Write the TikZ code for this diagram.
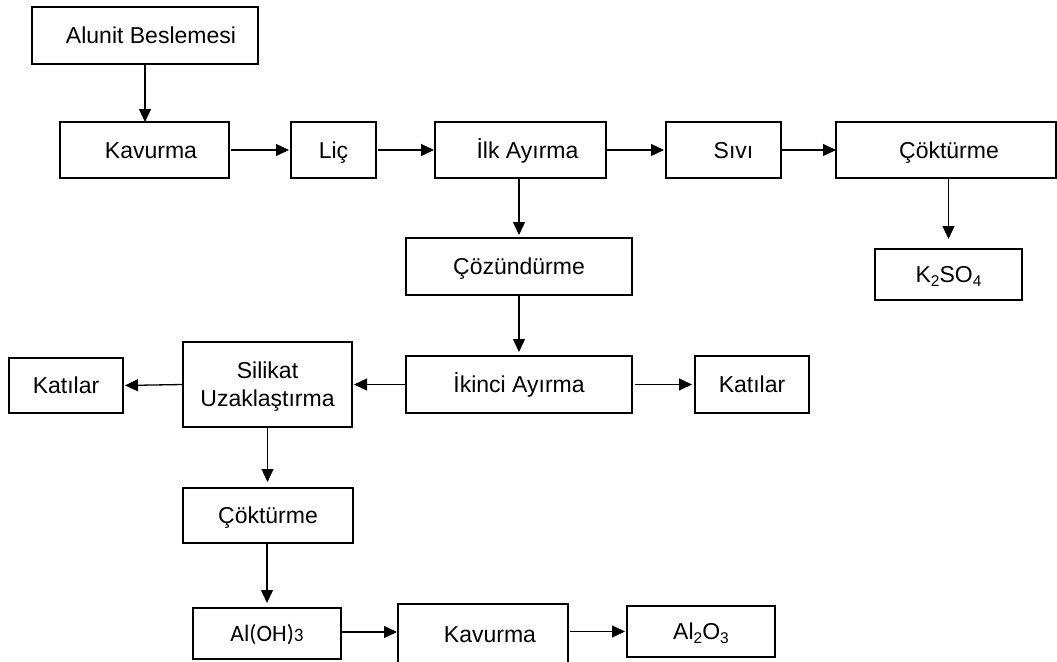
\documentclass[tikz,border=0pt]{standalone}
\usepackage{fontspec}
\setmainfont{Liberation Sans}
\newfontfamily\calfont{Carlito}
\usetikzlibrary{arrows.meta,calc}
% lowered, smaller digits for chemical formulas
\newcommand\chemsub[1]{\raisebox{-0.28ex}{\fontsize{15.5pt}{15.5pt}\selectfont #1}}

\begin{document}
\begin{tikzpicture}[x=1pt,y=-1pt,
  box/.style={draw,line width=1.3pt,inner sep=0pt,outer sep=0pt,
    text height=16.5pt,text depth=0pt,align=center,
    font=\fontsize{23pt}{28pt}\selectfont},
  flow/.style={line width=1.3pt,-{Triangle[length=13pt,width=12pt]}}]
\useasboundingbox (0,0) rectangle (1057,661);

% top row
\node[box,minimum width=226pt,minimum height=57pt] (feed)  at (145,35.5)  {\hspace*{12pt}Alunit Beslemesi};
\node[box,minimum width=169pt,minimum height=56pt] (kav1)  at (144.5,150) {\hspace*{13pt}Kavurma};
\node[box,minimum width=85pt, minimum height=56pt] (lic)   at (333.5,150) {Liç};
\node[box,minimum width=171pt,minimum height=56pt] (ilk)   at (520.5,150) {\hspace*{14pt}İlk Ayırma};
\node[box,minimum width=115pt,minimum height=56pt] (sivi)  at (723.5,150) {\hspace*{20pt}Sıvı};
\node[box,minimum width=220pt,minimum height=56pt] (cokt1) at (946,150)   {\hspace*{6pt}Çöktürme};
\node[box,minimum width=147pt,minimum height=51pt] (k2so4) at (948.5,274.5) {K\chemsub{2}SO\chemsub{4}};

% middle column
\node[box,minimum width=226pt,minimum height=57pt] (coz)   at (519,266.5) {Çözündürme};
\node[box,minimum width=226pt,minimum height=57pt] (iki)   at (519,384.5) {İkinci Ayırma};
\node[box,minimum width=114pt,minimum height=57pt] (kat2)  at (752,384.5) {Katılar};
\node[box,minimum width=169pt,minimum height=85pt,text height=44.5pt] (sil) at (267.5,384.5) {Silikat\\Uzaklaştırma};
\node[box,minimum width=114pt,minimum height=55pt] (kat1)  at (66,385.5)  {Katılar};

% bottom branch
\node[box,minimum width=170pt,minimum height=55pt] (cokt2) at (268,515.5) {Çöktürme};
\node[box,minimum width=148pt,minimum height=51pt] (aloh)  at (267,633.5) {{\calfont\fontsize{23.5pt}{28pt}\selectfont Al(OH)\fontsize{19pt}{19pt}\selectfont 3}};
\node[box,minimum width=170pt,minimum height=60pt] (kav2)  at (483,634)   {\hspace*{14pt}Kavurma};
\node[box,minimum width=148pt,minimum height=51pt] (al2o3) at (701,631.5) {Al\chemsub{2}O\chemsub{3}};

% connectors
\draw[flow] (feed.south) -- (feed.south |- kav1.north);
\draw[flow,shorten <=2pt,shorten >=2pt] (kav1.east) -- (lic.west);
\draw[flow,shorten <=2pt,shorten >=1pt] (lic.east) -- (ilk.west);
\draw[flow,shorten <=1pt,shorten >=2pt] (ilk.east) -- (sivi.west);
\draw[flow] (sivi.east) -- (cokt1.west);
\draw[flow,shorten >=10pt] (cokt1.south -| k2so4.north) -- (k2so4.north);
\draw[flow,shorten >=3pt] (ilk.south -| coz.north) -- (coz.north);
\draw[flow,shorten >=4pt] (coz.south) -- (iki.north);
\draw[flow,shorten <=3pt,shorten >=3pt] (iki.east) -- (kat2.west);
\draw[flow,shorten >=2pt] (iki.west) -- (sil.east);
\draw[flow,shorten >=2pt] (sil.west) -- (kat1.east);
\draw[flow,shorten >=6pt] (sil.south) -- (sil.south |- cokt2.north);
\draw[flow,shorten >=5pt] (cokt2.south -| aloh.north) -- (aloh.north);
\draw[flow,shorten >=1pt] (aloh.east |- 0,632) -- (kav2.west |- 0,632);
\draw[flow,shorten <=2pt,shorten >=2pt] (kav2.east |- al2o3.west) -- (al2o3.west);
\end{tikzpicture}
\end{document}
